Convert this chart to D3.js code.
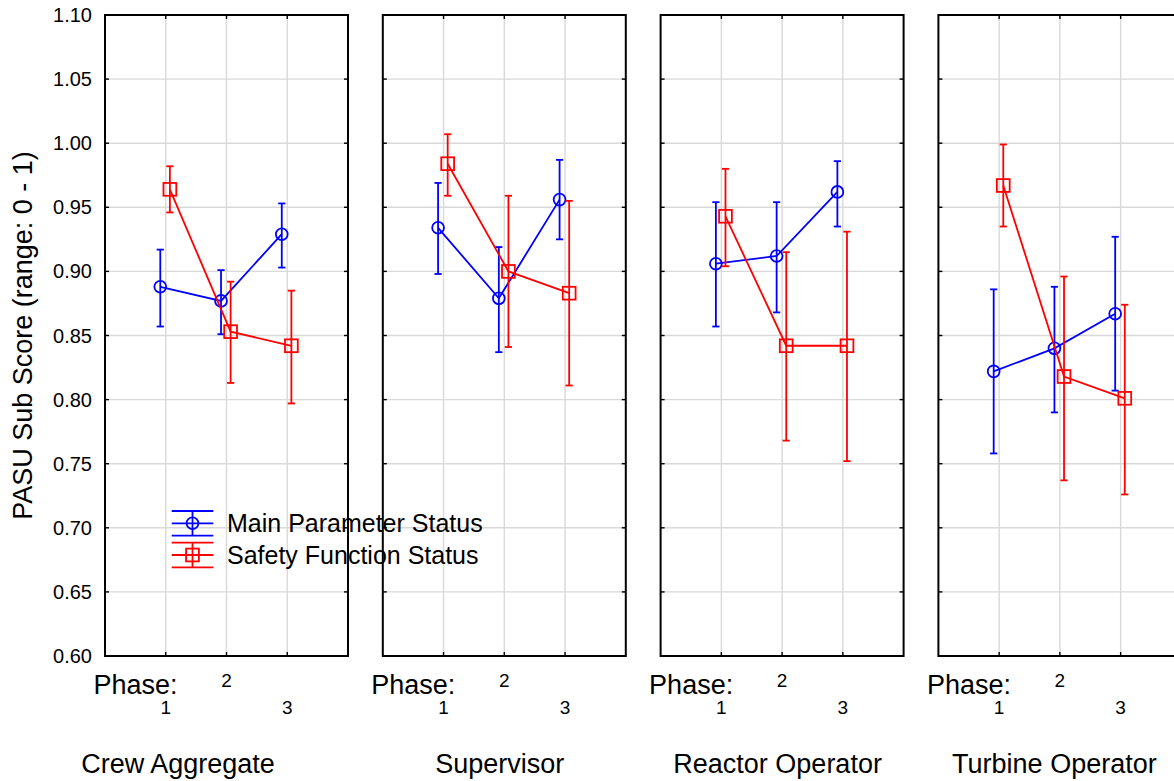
<!DOCTYPE html>
<html>
<head>
<meta charset="utf-8">
<script src="https://cdn.jsdelivr.net/npm/d3@7"></script>
<style>
  html, body { margin: 0; padding: 0; background: #fff; overflow: hidden; }
  text { font-family: Arial, "Liberation Sans", sans-serif; fill: #000; }
</style>
</head>
<body>
<svg id="chart" width="1174" height="781"></svg>
<script>
// ---------- data ----------
const panels = ["Crew Aggregate", "Supervisor", "Reactor Operator", "Turbine Operator"];
const phases = [1, 2, 3];
const phaseLabels = ["1", "2", "3"];
const yTicks = [0.60, 0.65, 0.70, 0.75, 0.80, 0.85, 0.90, 0.95, 1.00, 1.05, 1.10];
const seriesNames = ["Main Parameter Status", "Safety Function Status"];

// Main Parameter Status (blue): mean and error-bar ends per panel x phase
const mainMean = [[0.888, 0.877, 0.929], [0.934, 0.879, 0.956], [0.906, 0.912, 0.962], [0.822, 0.840, 0.867]];
const mainLow  = [[0.857, 0.851, 0.903], [0.898, 0.837, 0.925], [0.857, 0.868, 0.935], [0.758, 0.790, 0.807]];
const mainHigh = [[0.917, 0.901, 0.953], [0.969, 0.919, 0.987], [0.954, 0.954, 0.986], [0.886, 0.888, 0.927]];

// Safety Function Status (red)
const safMean = [[0.964, 0.853, 0.842], [0.984, 0.900, 0.883], [0.943, 0.842, 0.842], [0.967, 0.818, 0.801]];
const safLow  = [[0.946, 0.813, 0.797], [0.959, 0.841, 0.811], [0.904, 0.768, 0.752], [0.935, 0.737, 0.726]];
const safHigh = [[0.982, 0.892, 0.885], [1.007, 0.959, 0.955], [0.980, 0.915, 0.931], [0.999, 0.896, 0.874]];

// ---------- layout ----------
const svg = d3.select("#chart");
const yTop = 15, yBottom = 656;
const panelScale = d3.scaleBand().domain(panels).range([105, 1181.4]).paddingInner(0.1253).paddingOuter(0);
const pw = panelScale.bandwidth();
const x = d3.scaleLinear().domain([0, 4]).range([0, pw]);
const y = d3.scaleLinear().domain([0.60, 1.10]).range([yBottom, yTop]);
const titleDx = [73, 117, 117, 116];
const gridColor = "#d9d9d9";
const sw = 1.8;

const series = [
  { name: seriesNames[0], color: "#0000ff", shape: "circle", off: -0.09, mean: mainMean, lo: mainLow, hi: mainHigh },
  { name: seriesNames[1], color: "#ff0000", shape: "square", off: 0.068, mean: safMean, lo: safLow, hi: safHigh }
];

function drawMarker(g, shape, cx, cy, color) {
  if (shape === "circle") {
    g.append("circle").attr("cx", cx).attr("cy", cy).attr("r", 5.9)
      .attr("fill", "none").attr("stroke", color).attr("stroke-width", sw);
  } else {
    g.append("rect").attr("x", cx - 6.4).attr("y", cy - 6.4).attr("width", 12.8).attr("height", 12.8)
      .attr("fill", "none").attr("stroke", color).attr("stroke-width", sw);
  }
}

// gridlines for each panel
panels.forEach((p, i) => {
  const g = svg.append("g").attr("transform", `translate(${panelScale(p)},0)`);
  g.selectAll("line.hg").data(yTicks).enter().append("line")
    .attr("x1", 0).attr("x2", pw).attr("y1", d => y(d)).attr("y2", d => y(d))
    .attr("stroke", gridColor).attr("stroke-width", 1.4);
  g.selectAll("line.vg").data(phases).enter().append("line")
    .attr("x1", d => x(d)).attr("x2", d => x(d)).attr("y1", yTop).attr("y2", yBottom)
    .attr("stroke", gridColor).attr("stroke-width", 1.4);
});

// legend (drawn beneath frames)
const leg = svg.append("g");
series.forEach((s, k) => {
  const cy = 523.3 + k * 31.7;
  const lx0 = 171.7, lx1 = 213.3, lcx = (lx0 + lx1) / 2;
  [-12.3, 0, 12.3].forEach(dy => {
    leg.append("line").attr("x1", lx0).attr("x2", lx1).attr("y1", cy + dy).attr("y2", cy + dy)
      .attr("stroke", s.color).attr("stroke-width", sw);
  });
  leg.append("line").attr("x1", lcx).attr("x2", lcx).attr("y1", cy - 12.3).attr("y2", cy + 12.3)
    .attr("stroke", s.color).attr("stroke-width", sw);
  drawMarker(leg, s.shape, lcx, cy, s.color);
  leg.append("text").attr("x", 227).attr("y", cy).attr("dy", "0.36em")
    .attr("font-size", 25).text(s.name);
});

// frames, ticks, data
panels.forEach((p, i) => {
  const g = svg.append("g").attr("transform", `translate(${panelScale(p)},0)`);
  const tl = 4;
  yTicks.forEach(v => {
    g.append("line").attr("x1", 0).attr("x2", tl).attr("y1", y(v)).attr("y2", y(v)).attr("stroke", "#000").attr("stroke-width", 1.4);
    g.append("line").attr("x1", pw - tl).attr("x2", pw).attr("y1", y(v)).attr("y2", y(v)).attr("stroke", "#000").attr("stroke-width", 1.4);
  });
  phases.forEach(v => {
    g.append("line").attr("x1", x(v)).attr("x2", x(v)).attr("y1", yTop).attr("y2", yTop + tl).attr("stroke", "#000").attr("stroke-width", 1.4);
    g.append("line").attr("x1", x(v)).attr("x2", x(v)).attr("y1", yBottom - tl).attr("y2", yBottom).attr("stroke", "#000").attr("stroke-width", 1.4);
  });
  g.append("rect").attr("x", 0).attr("y", yTop).attr("width", pw).attr("height", yBottom - yTop)
    .attr("fill", "none").attr("stroke", "#000").attr("stroke-width", 2);

  g.append("text").attr("x", -11.5).attr("y", 693.5).attr("font-size", 27).text("Phase:");
  phases.forEach((v, j) => {
    g.append("text").attr("x", x(v)).attr("y", j === 1 ? 687 : 713.5)
      .attr("text-anchor", "middle").attr("font-size", 19).text(phaseLabels[j]);
  });
  g.append("text").attr("x", titleDx[i]).attr("y", 772.5).attr("text-anchor", "middle")
    .attr("font-size", 27).text(p);

  series.forEach(s => {
    const pts = phases.map((v, j) => ({ px: x(v + s.off), m: s.mean[i][j], lo: s.lo[i][j], hi: s.hi[i][j] }));
    pts.forEach(d => {
      g.append("line").attr("x1", d.px).attr("x2", d.px).attr("y1", y(d.lo)).attr("y2", y(d.hi))
        .attr("stroke", s.color).attr("stroke-width", sw);
      [d.lo, d.hi].forEach(v => {
        g.append("line").attr("x1", d.px - 3.6).attr("x2", d.px + 3.6).attr("y1", y(v)).attr("y2", y(v))
          .attr("stroke", s.color).attr("stroke-width", sw);
      });
    });
    g.append("path").datum(pts)
      .attr("d", d3.line().x(d => d.px).y(d => y(d.m)))
      .attr("fill", "none").attr("stroke", s.color).attr("stroke-width", sw);
    pts.forEach(d => drawMarker(g, s.shape, d.px, y(d.m), s.color));
  });
});

const x0 = panelScale(panels[0]);
svg.selectAll("text.ytl").data(yTicks).enter().append("text")
  .attr("x", x0 - 13).attr("y", d => y(d)).attr("dy", "0.35em")
  .attr("text-anchor", "end").attr("font-size", 20).text(d => d3.format(".2f")(d));

svg.append("text").attr("transform", `translate(32,${(yTop + yBottom) / 2}) rotate(-90)`)
  .attr("text-anchor", "middle").attr("font-size", 27).text("PASU Sub Score (range: 0 - 1)");
</script>
</body>
</html>
